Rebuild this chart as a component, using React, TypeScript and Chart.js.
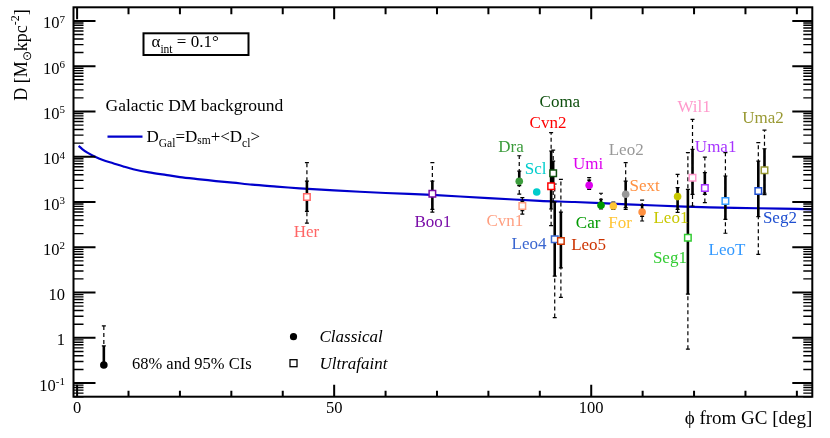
import { useEffect, useRef } from 'react'
import { Chart, registerables } from 'chart.js'

Chart.register(...registerables)

// dwarf spheroidals: angle from the Galactic centre and D with 68% / 95% CIs
const names = ['Her', 'Boo1', 'Dra', 'Cvn1', 'Scl', 'Cvn2', 'Coma', 'Leo4', 'Leo5', 'Umi', 'Car', 'For', 'Leo2', 'Sext', 'Leo1', 'Seg1', 'Wil1', 'Uma1', 'LeoT', 'Seg2', 'Uma2']
const classical = [false, false, true, false, true, false, false, false, false, true, true, true, true, true, true, false, false, false, false, false, false]
const phi = [44.7, 69.1, 86.0, 86.6, 89.4, 92.2, 92.6, 92.9, 94.1, 99.6, 101.9, 104.3, 106.7, 109.9, 116.8, 118.8, 119.7, 122.1, 126.1, 132.5, 133.7]
const dMed = [1290, 1530, 2860, 815, 1660, 2220, 4300, 150, 138, 2330, 845, 815, 1480, 600, 1315, 163, 3450, 2040, 1050, 1750, 5010]
const lo68 = [620, 690, 2300, 640, 1550, 700, 2200, 23, 35, 2050, 760, 740, 750, 480, 690, 9.2, 1480, 1480, 415, 475, 1560]
const hi68 = [2900, 2900, 4800, 1050, 1780, 13400, 8000, 1000, 600, 3050, 1150, 920, 2900, 850, 2080, 1910, 14500, 4460, 3750, 8030, 15000]
const lo95 = [340, 600, 1500, 540, 1480, 300, 1000, 2.8, 7.8, 1900, 700, 690, 690, 380, 590, 0.56, 815, 970, 204, 70, 1450]
const hi95 = [7400, 7400, 10500, 1250, 1860, 34000, 14000, 2500, 3170, 3460, 1560, 1000, 7400, 1100, 4080, 12300, 67000, 9850, 12300, 20500, 38700]
const colors = ['#ff6666', '#7a0ea8', '#3c9c3c', '#ff9f80', '#00cccc', '#ff0000', '#0d4f0d', '#3a66d0', '#cc3300', '#dd00ee', '#009900', '#ffc535', '#999999', '#ff9040', '#c8c800', '#33cc33', '#ff99cc', '#a633ff', '#3399ff', '#1f4fd0', '#999933']
const labelPhi = [44.6, 69.2, 84.4, 83.2, 89.2, 91.6, 93.9, 87.9, 99.5, 99.4, 99.4, 105.6, 106.8, 110.4, 115.5, 115.3, 120.0, 124.2, 126.4, 136.7, 133.4]
const labelD = [214, 356, 16200, 374, 5270, 55000, 160000, 116, 110, 6800, 337, 337, 13800, 2220, 435, 57, 123000, 16200, 85, 435, 71000]

// Galactic DM background D_Gal
const galPhi = [0.3, 1, 2, 3.5, 5, 7, 9, 10.9, 14, 17.5, 20, 23.9, 27, 30.3, 34, 38.8, 43.3, 50, 60, 69, 80, 90, 96.8, 107, 118.2, 128, 136.7, 143]
const galD = [17400, 14800, 12300, 10000, 8500, 7200, 6100, 5300, 4500, 3940, 3550, 3170, 2900, 2680, 2420, 2190, 2000, 1800, 1580, 1430, 1220, 1060, 1000, 890, 790, 740, 715, 690]

// CI legend sample (drawn in data space)
const samplePhi = 5.2
const sampleD = 0.25
const sampleHi68 = 0.66
const sampleHi95 = 1.83

const xMajor = [0, 50, 100]
const xMinorStep = 10
const yDecades = [-1, 0, 1, 2, 3, 4, 5, 6, 7]

const SERIF = '"Liberation Serif", "Times New Roman", serif'

type Part = { t: string; size: number; dy?: number; italic?: boolean }

function richWidth(ctx: CanvasRenderingContext2D, parts: Part[]) {
  let w = 0
  for (const p of parts) {
    ctx.font = `${p.italic ? 'italic ' : ''}${p.size}px ${SERIF}`
    w += ctx.measureText(p.t).width
  }
  return w
}

function drawRich(ctx: CanvasRenderingContext2D, parts: Part[], x: number, y: number, align: 'left' | 'right' | 'center' = 'left') {
  const w = richWidth(ctx, parts)
  let cx = align === 'left' ? x : align === 'right' ? x - w : x - w / 2
  ctx.textAlign = 'left'
  ctx.textBaseline = 'alphabetic'
  for (const p of parts) {
    ctx.font = `${p.italic ? 'italic ' : ''}${p.size}px ${SERIF}`
    ctx.fillText(p.t, cx, y + (p.dy || 0))
    cx += ctx.measureText(p.t).width
  }
}

function errBar(ctx: CanvasRenderingContext2D, x: number, yl68: number, yh68: number, yl95: number, yh95: number) {
  ctx.strokeStyle = '#000'
  ctx.lineWidth = 1.2
  ctx.setLineDash([4, 3])
  ctx.beginPath(); ctx.moveTo(x, yl95); ctx.lineTo(x, yh95); ctx.stroke()
  ctx.setLineDash([])
  ctx.beginPath()
  ctx.moveTo(x - 2, yl95); ctx.lineTo(x + 2, yl95)
  ctx.moveTo(x - 2, yh95); ctx.lineTo(x + 2, yh95)
  ctx.stroke()
  ctx.lineWidth = 2.6
  ctx.beginPath(); ctx.moveTo(x, yl68); ctx.lineTo(x, yh68); ctx.stroke()
  ctx.lineWidth = 1.2
  ctx.beginPath()
  ctx.moveTo(x - 2, yl68); ctx.lineTo(x + 2, yl68)
  ctx.moveTo(x - 2, yh68); ctx.lineTo(x + 2, yh68)
  ctx.stroke()
}

// error bars go right after the background curve, below the markers
const errorBarsPlugin = {
  id: 'errorBars',
  afterDatasetDraw(chart: any, args: any) {
    if (args.index !== 0) return
    const { ctx, scales: { x, y } } = chart
    ctx.save()
    for (let i = 0; i < phi.length; i++) {
      errBar(ctx, x.getPixelForValue(phi[i]), y.getPixelForValue(lo68[i]), y.getPixelForValue(hi68[i]), y.getPixelForValue(lo95[i]), y.getPixelForValue(hi95[i]))
    }
    const sx = x.getPixelForValue(samplePhi)
    const sy = y.getPixelForValue(sampleD)
    errBar(ctx, sx, sy, y.getPixelForValue(sampleHi68), sy, y.getPixelForValue(sampleHi95))
    ctx.restore()
  },
}

const framePlugin = {
  id: 'rootFrame',
  afterDraw(chart: any) {
    const { ctx, chartArea: a, scales: { x, y } } = chart
    ctx.save()
    ctx.strokeStyle = '#000'
    ctx.fillStyle = '#000'

    // x ticks, bottom and top
    for (let v = 0; v <= x.max; v += xMinorStep) {
      const px = x.getPixelForValue(v)
      const major = xMajor.includes(v)
      ctx.lineWidth = 2
      ctx.beginPath()
      ctx.moveTo(px, a.bottom); ctx.lineTo(px, a.bottom - (major ? 12 : 6))
      ctx.moveTo(px, a.top); ctx.lineTo(px, a.top + (major ? 12 : 7))
      ctx.stroke()
    }
    // y ticks, left and right
    for (let d = -2; d <= 7; d++) {
      for (let m = 1; m <= 9; m++) {
        const v = m * Math.pow(10, d)
        if (v < y.min || v >= y.max) continue
        const py = y.getPixelForValue(v)
        const major = m === 1
        ctx.lineWidth = major ? 2 : 1.4
        ctx.beginPath()
        ctx.moveTo(a.left, py); ctx.lineTo(a.left + (major ? 22 : 10), py)
        ctx.moveTo(a.right, py); ctx.lineTo(a.right - (major ? 20 : 9), py)
        ctx.stroke()
      }
    }
    ctx.lineWidth = 2
    ctx.strokeRect(a.left, a.top, a.right - a.left, a.bottom - a.top)

    // tick labels
    for (const v of xMajor) {
      ctx.font = `16.5px ${SERIF}`
      ctx.textAlign = 'center'
      ctx.textBaseline = 'alphabetic'
      ctx.fillText(String(v), x.getPixelForValue(v), a.bottom + 16.5)
    }
    for (const d of yDecades) {
      const py = y.getPixelForValue(Math.pow(10, d)) + 7.5
      const parts: Part[] = d === 0 ? [{ t: '1', size: 16.5 }] : d === 1 ? [{ t: '10', size: 16.5 }] : [{ t: '10', size: 16.5 }, { t: String(d), size: 11, dy: -5.5 }]
      drawRich(ctx, parts, a.left - 8.5, py, 'right')
    }

    // axis titles
    drawRich(ctx, [{ t: '\u03d5 from GC [deg]', size: 19 }], a.right, a.bottom + 27.5, 'right')
    ctx.save()
    ctx.translate(27, 55)
    ctx.rotate(-Math.PI / 2)
    drawRich(ctx, [
      { t: 'D [M', size: 18 },
      { t: '\u2299', size: 12, dy: 4 },
      { t: 'kpc', size: 18 },
      { t: '-2', size: 12, dy: -8 },
      { t: ']', size: 18 },
    ], 0, 0, 'center')
    ctx.restore()

    // alpha box
    ctx.lineWidth = 2
    ctx.strokeRect(a.left + 70, a.top + 26, 105, 21.7)
    drawRich(ctx, [
      { t: '\u03b1', size: 17 },
      { t: 'int', size: 11.5, dy: 6 },
      { t: ' = 0.1\u00b0', size: 17 },
    ], a.left + 78, a.top + 40)

    // Galactic background legend
    drawRich(ctx, [{ t: 'Galactic DM background', size: 17.5 }], a.left + 32, a.top + 104)
    ctx.strokeStyle = '#0000cc'
    ctx.lineWidth = 2.2
    ctx.beginPath(); ctx.moveTo(a.left + 34, a.top + 129.4); ctx.lineTo(a.left + 69, a.top + 129.4); ctx.stroke()
    drawRich(ctx, [
      { t: 'D', size: 17 },
      { t: 'Gal', size: 11.5, dy: 5 },
      { t: '=D', size: 17 },
      { t: 'sm', size: 11.5, dy: 2 },
      { t: '+<D', size: 17 },
      { t: 'cl', size: 11.5, dy: 5 },
      { t: '>', size: 17 },
    ], a.left + 73, a.top + 134.4)

    // marker legend
    drawRich(ctx, [{ t: '68% and 95% CIs', size: 16.5 }], a.left + 58.5, a.bottom - 27.5)
    ctx.fillStyle = '#000'
    ctx.beginPath(); ctx.arc(a.left + 220, a.bottom - 60, 3.6, 0, Math.PI * 2); ctx.fill()
    ctx.strokeStyle = '#000'
    ctx.lineWidth = 1.3
    ctx.strokeRect(a.left + 216.5, a.bottom - 37, 7, 7)
    drawRich(ctx, [{ t: 'Classical', size: 17, italic: true }], a.left + 246, a.bottom - 54.5)
    drawRich(ctx, [{ t: 'Ultrafaint', size: 17, italic: true }], a.left + 246, a.bottom - 28)

    // galaxy names
    ctx.font = `17px ${SERIF}`
    ctx.textAlign = 'center'
    ctx.textBaseline = 'middle'
    for (let i = 0; i < names.length; i++) {
      ctx.fillStyle = colors[i]
      ctx.fillText(names[i], x.getPixelForValue(labelPhi[i]), y.getPixelForValue(labelD[i]))
    }
    ctx.restore()
  },
}

export default function App() {
  const canvasRef = useRef<HTMLCanvasElement>(null)

  useEffect(() => {
    document.body.style.margin = '0'
    if (!canvasRef.current) return
    const idxC = phi.map((_, i) => i).filter(i => classical[i])
    const idxU = phi.map((_, i) => i).filter(i => !classical[i])
    const chart = new Chart(canvasRef.current, {
      type: 'scatter',
      data: {
        datasets: [
          {
            type: 'line',
            label: 'D_Gal',
            order: 10,
            data: galPhi.map((p, i) => ({ x: p, y: galD[i] })),
            borderColor: '#0000cc',
            borderWidth: 2.2,
            pointRadius: 0,
            tension: 0.3,
            fill: false,
          } as any,
          {
            label: 'Classical',
            order: 1,
            data: idxC.map(i => ({ x: phi[i], y: dMed[i] })),
            pointStyle: 'circle',
            pointRadius: 3.8,
            pointBackgroundColor: idxC.map(i => colors[i]),
            pointBorderColor: idxC.map(i => colors[i]),
            pointBorderWidth: 0,
          },
          {
            label: 'Ultrafaint',
            order: 1,
            data: idxU.map(i => ({ x: phi[i], y: dMed[i] })),
            pointStyle: 'rect',
            pointRadius: 4.6,
            pointBackgroundColor: '#ffffff',
            pointBorderColor: idxU.map(i => colors[i]),
            pointBorderWidth: 1.5,
          },
          {
            label: 'sample',
            order: 1,
            data: [{ x: samplePhi, y: sampleD }],
            pointStyle: 'circle',
            pointRadius: 3.8,
            pointBackgroundColor: '#000',
            pointBorderWidth: 0,
          },
        ],
      },
      options: {
        animation: false,
        responsive: true,
        maintainAspectRatio: false,
        layout: { padding: { left: 73.5, right: 17.7, top: 7.3, bottom: 41.3 } },
        plugins: { legend: { display: false }, tooltip: { enabled: false } },
        scales: {
          x: { type: 'linear', min: -0.7, max: 143, display: false },
          y: { type: 'logarithmic', min: 0.05, max: 2e7, display: false },
        },
      },
      plugins: [errorBarsPlugin, framePlugin],
    })
    return () => chart.destroy()
  }, [])

  return (
    <div style={{ width: 830, height: 438, position: 'relative', background: '#fff' }}>
      <canvas ref={canvasRef} />
    </div>
  )
}
